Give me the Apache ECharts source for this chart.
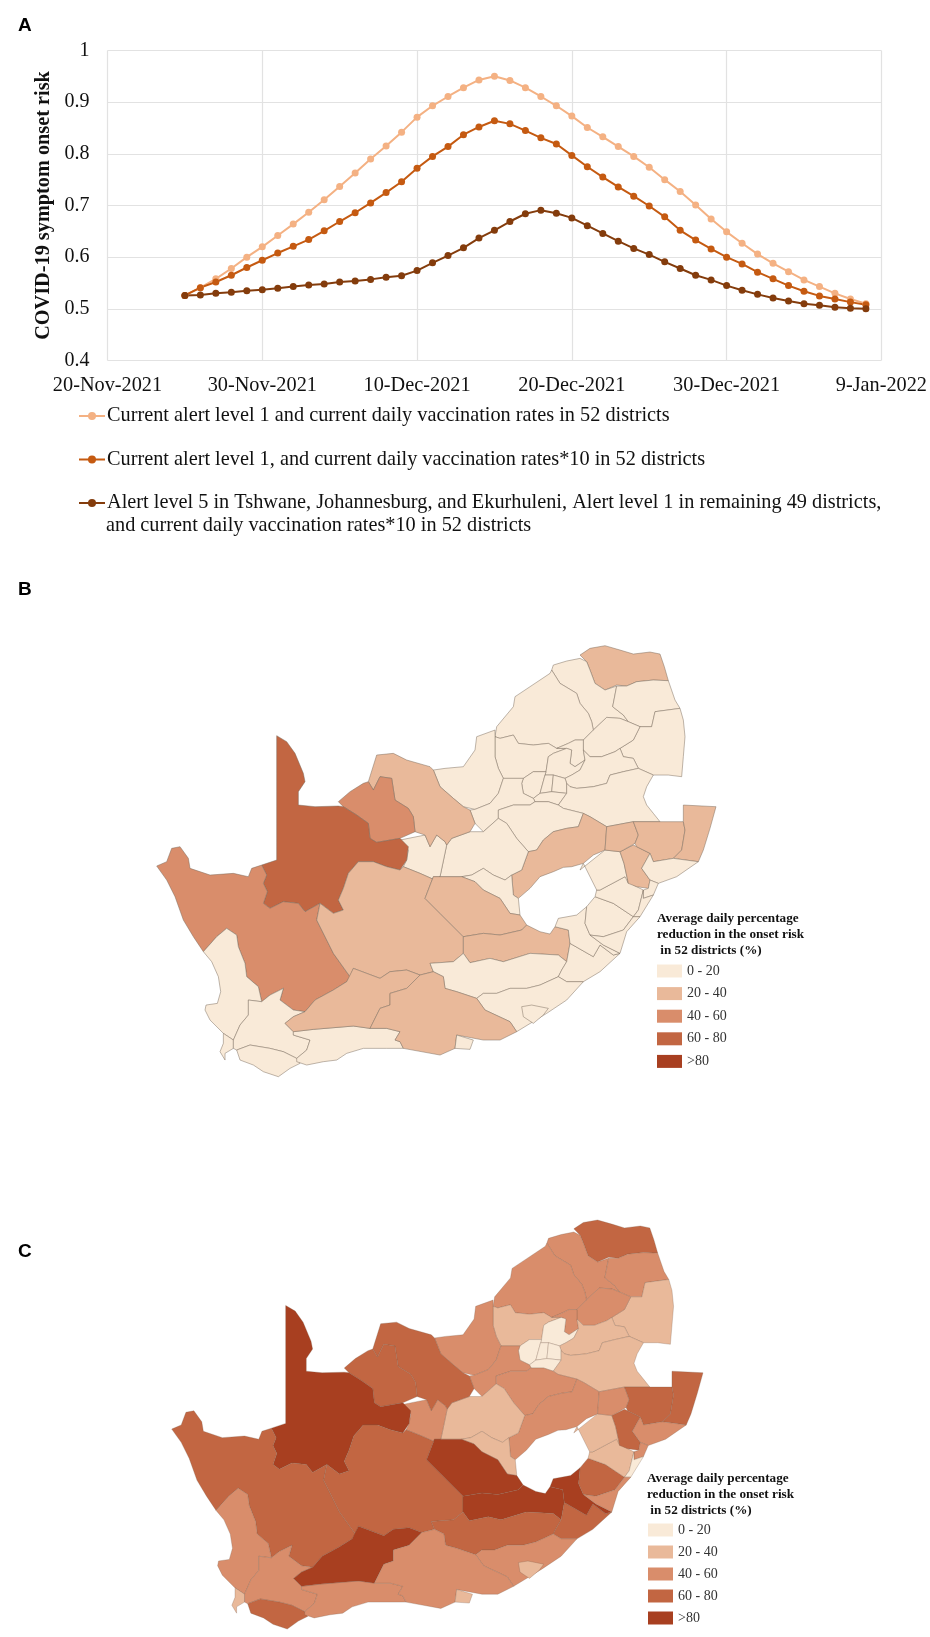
<!DOCTYPE html>
<html>
<head>
<meta charset="utf-8">
<style>html,body{margin:0;padding:0;background:#fff}#chart{width:930px;height:1637px}</style>
<script src="https://cdn.jsdelivr.net/npm/echarts@6/dist/echarts.min.js"></script>
</head>
<body>
<div id="chart"></div>
<script>
// panel A
var xTickLabels = ['20-Nov-2021', '30-Nov-2021', '10-Dec-2021', '20-Dec-2021', '30-Dec-2021', '9-Jan-2022'];
var firstDay = 5; // 25 Nov, counted in days from 20 Nov
var riskCurrent = [0.526, 0.541, 0.558, 0.578, 0.600, 0.620, 0.642, 0.664, 0.687, 0.711, 0.737, 0.763, 0.790, 0.815, 0.842, 0.871, 0.893, 0.911, 0.928, 0.943, 0.950, 0.942, 0.928, 0.911, 0.893, 0.873, 0.851, 0.833, 0.814, 0.795, 0.774, 0.750, 0.727, 0.701, 0.674, 0.649, 0.627, 0.606, 0.588, 0.572, 0.556, 0.543, 0.530, 0.519, 0.510];
var riskVacc10 = [0.526, 0.541, 0.552, 0.565, 0.580, 0.594, 0.608, 0.621, 0.634, 0.651, 0.669, 0.686, 0.705, 0.725, 0.746, 0.772, 0.795, 0.814, 0.837, 0.852, 0.864, 0.858, 0.845, 0.831, 0.819, 0.797, 0.775, 0.755, 0.736, 0.718, 0.699, 0.678, 0.652, 0.633, 0.616, 0.600, 0.587, 0.571, 0.558, 0.545, 0.534, 0.525, 0.519, 0.513, 0.508];
var riskLevel5 = [0.526, 0.527, 0.530, 0.532, 0.535, 0.537, 0.540, 0.543, 0.546, 0.548, 0.552, 0.554, 0.557, 0.561, 0.564, 0.574, 0.589, 0.603, 0.618, 0.637, 0.652, 0.669, 0.684, 0.691, 0.685, 0.676, 0.661, 0.646, 0.631, 0.617, 0.605, 0.591, 0.578, 0.565, 0.556, 0.545, 0.536, 0.528, 0.521, 0.515, 0.510, 0.507, 0.503, 0.501, 0.500];
var name1 = 'Current alert level 1 and current daily vaccination rates in 52 districts';
var name2 = 'Current alert level 1, and current daily vaccination rates*10 in 52 districts';
var name3 = 'Alert level 5 in Tshwane, Johannesburg, and Ekurhuleni, Alert level 1 in remaining 49 districts,';
var name3b = 'and current daily vaccination rates*10 in 52 districts';

// panels B and C, average daily reduction read as the middle of each legend class
var districts = ['Vhembe', 'Capricorn', 'Waterberg', 'Mopani', 'Ehlanzeni', 'Sekhukhune', 'Bojanala', 'Ngaka Modiri Molema', 'Metsweding', 'Tshwane', 'Nkangala', 'West Rand', 'Johannesburg', 'Ekurhuleni', 'Sedibeng', 'Gert Sibande', 'Dr Kenneth Kaunda', 'Fezile Dabi', 'Thabo Mofutsanyana', 'Lejweleputswa', 'Xhariep', 'Frances Baard', 'Ruth Mompati', 'John Taolo Gaetsewe', 'ZF Mgcawu', 'Namakwa', 'Pixley ka Seme', 'Karoo East', 'Chris Hani', 'Amathole', 'Amathole East', 'Amathole South', 'Buffalo City', 'Joe Gqabi', 'OR Tambo', 'Alfred Nzo', 'Harry Gwala', 'uMgungundlovu', 'Amajuba', 'Zululand', 'uMkhanyakude', 'iLembe', 'eThekwini', 'Ugu', 'Mbhashe', 'West Coast', 'Cape Town', 'Cape Winelands', 'Overberg', 'Eden', 'Central Karoo', 'Sarah Baartman', 'Nelson Mandela Bay'];
var reductionB = [30, 10, 10, 10, 10, 10, 10, 10, 10, 10, 10, 10, 10, 10, 10, 10, 10, 10, 30, 10, 10, 10, 30, 50, 70, 50, 30, 30, 30, 10, 10, 10, 10, 10, 10, 10, 10, 30, 30, 30, 30, 10, 10, 10, 10, 10, 10, 10, 10, 10, 30, 30, 10];
var reductionC = [70, 50, 50, 50, 30, 50, 30, 50, 50, 10, 30, 10, 10, 10, 10, 30, 50, 50, 50, 30, 30, 50, 70, 70, 90, 70, 70, 90, 90, 70, 70, 50, 30, 90, 70, 30, 30, 70, 50, 70, 70, 50, 50, 10, 50, 50, 30, 50, 70, 50, 90, 50, 30];
var classLabels = ['0 - 20', '20 - 40', '40 - 60', '60 - 80', '>80'];
var classColors = ['#f9ead8', '#e9b99a', '#d98d6b', '#c26642', '#a83f20'];

// district outlines, traced by hand, three sheets that share one map unit
function sheet(dx, dy) {
  return function (s) {
    return s.trim().split(/\s+/).map(function (p) {
      var c = p.split(',');
      return [+c[0] + dx, +c[1] + dy];
    });
  };
}
var W = sheet(0, 0), E = sheet(870, 0), S = sheet(180, 1290);
var outlines = {
  'Vhembe': E('480,375 510,355 555,347 600,360 640,372 690,366 720,372 733,410 745,452 700,450 650,455 620,468 590,465 555,480 525,460 510,420 500,395'),
  'Capricorn': E('400,405 440,393 480,385 500,395 510,420 525,460 555,480 590,468 578,530 610,555 625,575 600,565 560,562 520,600 515,575 505,550 480,520 470,490 420,460 395,420'),
  'Waterberg': E('395,420 420,460 470,490 480,520 505,550 515,575 520,600 490,630 465,630 445,640 410,655 385,640 340,645 295,640 280,615 240,625 225,620 230,590 280,530 285,500 330,470 390,430'),
  'Mopani': E('590,468 620,468 650,455 700,450 745,452 765,510 780,535 705,545 695,590 660,590 625,575 610,555 578,530'),
  'Ehlanzeni': E('705,545 780,535 790,570 795,620 790,680 785,740 745,735 700,735 655,715 640,685 610,680 600,655 640,630 660,590 695,590'),
  'Sekhukhune': E('520,600 560,562 600,565 625,575 660,590 640,630 600,655 585,665 545,680 510,680 490,660 490,630'),
  'Bojanala': E('225,620 240,625 280,615 295,640 340,645 385,640 410,655 440,655 400,670 385,680 378,725 340,725 310,745 250,745 235,715 225,680'),
  'Ngaka Modiri Molema': E('170,620 225,600 225,620 225,680 235,715 250,745 235,790 210,820 165,838 130,830 100,805 60,770 40,720 75,715 130,710 165,660'),
  'Metsweding': E('410,655 445,640 465,630 490,630 490,660 495,690 465,710 450,700 455,660 440,655'),
  'Tshwane': E('385,680 400,670 440,655 455,660 450,700 465,710 495,690 480,720 455,735 435,745 400,735 375,735 378,725'),
  'Nkangala': E('490,660 510,680 545,680 585,665 600,655 610,680 640,685 655,715 610,725 570,735 560,760 520,770 470,775 450,770 440,760 435,745 455,735 480,720 495,690'),
  'West Rand': E('340,725 378,725 375,735 360,790 340,805 310,790 305,760 310,745'),
  'Johannesburg': E('375,735 400,735 395,785 360,790'),
  'Ekurhuleni': E('400,735 435,745 440,760 440,790 395,785'),
  'Sedibeng': E('340,805 360,790 395,785 440,790 415,825 385,815 345,815'),
  'Gert Sibande': E('415,825 440,790 440,760 450,770 470,775 520,770 560,760 570,735 610,725 655,715 700,735 680,770 670,800 680,825 700,850 720,875 640,875 560,890 510,860 490,850 430,835'),
  'Dr Kenneth Kaunda': E('250,745 310,745 305,760 310,790 340,805 345,815 330,825 280,825 235,840 235,865 190,905 165,880 150,840 165,838 210,820 235,790'),
  'Fezile Dabi': E('235,865 235,840 280,825 330,825 345,815 385,815 415,825 430,835 490,850 475,890 440,895 400,905 370,930 350,960 325,965 290,925 260,880'),
  'Thabo Mofutsanyana': E('490,850 510,860 560,890 555,960 520,975 490,1000 455,1010 430,1012 400,1025 360,1040 330,1075 295,1105 280,1095 275,1035 305,1020 325,965 350,960 370,930 400,905 440,895 475,890'),
  'Lejweleputswa': E('235,865 260,880 290,925 325,965 305,1020 275,1035 255,1050 220,1035 190,1015 155,1035 125,1040 60,1040 80,945 95,925 150,905 190,905'),
  'Xhariep': E('125,1040 155,1035 190,1015 220,1035 255,1050 275,1035 280,1095 295,1105 300,1155 270,1150 240,1105 190,1080 165,1055'),
  'Frances Baard': E('-60,930 15,915 30,950 50,915 75,935 80,945 60,1040 45,1050 0,1030 -50,1010 -40,990 -35,960'),
  'Ruth Mompati': E('-155,755 -130,675 -80,670 -40,690 30,710 40,720 60,770 100,805 130,830 150,840 165,880 150,905 95,925 80,945 75,935 50,915 30,950 15,915 -15,905 -20,860 -35,835 -75,810 -85,745 -120,740 -140,780'),
  'John Taolo Gaetsewe': W('625,815 660,785 700,760 715,755 730,780 750,740 785,745 795,810 835,835 850,860 855,905 810,925 740,937 720,925 715,880 680,855 640,830'),
  'ZF Mgcawu': W('440,617 470,635 495,670 520,730 525,755 505,785 505,825 555,830 625,828 640,830 680,855 715,880 720,925 740,937 810,925 835,950 830,990 810,1020 770,1010 730,995 685,995 655,1030 640,1075 625,1110 640,1140 610,1150 570,1120 525,1145 505,1120 460,1115 420,1135 400,1120 412,1085 400,1060 410,1035 395,1005 440,990'),
  'Namakwa': W('80,1008 110,995 125,955 150,950 175,985 180,1015 240,1035 310,1030 355,1040 365,1015 395,1005 410,1035 400,1060 412,1085 400,1120 420,1135 460,1115 505,1120 525,1145 570,1120 560,1170 590,1230 610,1270 660,1340 650,1355 610,1380 555,1410 525,1445 490,1440 450,1410 460,1375 420,1395 395,1415 385,1370 350,1340 345,1300 325,1250 320,1215 290,1195 260,1220 220,1265 190,1220 160,1170 135,1100 110,1050'),
  'Pixley ka Seme': W('560,1170 570,1120 610,1150 640,1140 625,1110 640,1075 655,1030 685,995 730,995 770,1010 810,1020 820,1010 870,1030 915,1050 930,1040 910,1040 885,1105 930,1150 1000,1220 1000,1270 970,1295 900,1300 910,1325 870,1335 830,1320 780,1325 750,1345 670,1315 660,1340 610,1270 590,1230'),
  'Karoo East': E('40,1040 125,1040 165,1055 190,1080 240,1105 270,1150 300,1155 320,1185 305,1200 240,1215 190,1210 130,1220 60,1150 15,1105'),
  'Chris Hani': E('130,1220 190,1210 240,1215 305,1200 320,1185 360,1205 390,1212 405,1190 445,1200 450,1240 440,1295 415,1275 330,1270 250,1295 210,1285 150,1298 130,1270'),
  'Amathole': E('30,1300 100,1295 130,1270 150,1298 210,1285 250,1295 330,1270 415,1275 440,1295 425,1320 415,1340 360,1365 320,1375 270,1375 230,1390 190,1390 170,1405 110,1385 75,1375 70,1340 40,1325'),
  'Amathole East': E('450,1240 520,1280 540,1245 580,1275 600,1270 540,1325 490,1355 440,1355 415,1340 425,1320 440,1295'),
  'Amathole South': E('170,1405 190,1390 230,1390 270,1375 320,1375 360,1365 415,1340 440,1355 490,1355 440,1410 380,1450 290,1505 270,1475 195,1440'),
  'Buffalo City': E('305,1430 335,1425 385,1435 370,1455 340,1480 310,1460'),
  'Joe Gqabi': E('415,1165 470,1155 500,1130 495,1180 510,1215 550,1245 600,1270 580,1275 540,1245 520,1280 450,1240 445,1200 405,1190'),
  'OR Tambo': E('525,1100 580,1120 640,1160 610,1200 550,1220 510,1215 495,1180 500,1130'),
  'Alfred Nzo': E('530,1080 540,1080 615,1040 640,1065 670,1080 655,1140 640,1160 580,1120 525,1100'),
  'Harry Gwala': E('480,1020 555,960 600,965 612,1000 625,1060 615,1040 540,1080 530,1080 490,1000'),
  'uMgungundlovu': E('600,965 640,945 650,950 690,970 665,1015 690,1050 685,1075 650,1070 625,1060 612,1000'),
  'Amajuba': E('560,890 640,875 655,915 645,940 610,960 600,965 555,960'),
  'Zululand': E('640,875 720,875 790,875 795,900 785,960 760,985 700,995 690,970 650,950 645,940 655,915'),
  'uMkhanyakude': E('790,825 888,830 870,895 850,960 835,995 760,985 785,960 795,900 790,875'),
  'iLembe': E('665,1015 690,970 700,995 760,985 835,995 770,1040 715,1060 690,1050'),
  'eThekwini': E('690,1050 715,1060 700,1095 670,1105 670,1080 685,1075'),
  'Ugu': E('670,1080 670,1105 700,1095 660,1160 640,1160 655,1140'),
  'Mbhashe': E('510,1215 550,1220 610,1200 640,1160 660,1160 620,1205 600,1270 550,1245'),
  'West Coast': W('220,1265 260,1220 290,1195 320,1215 325,1250 345,1300 350,1340 385,1370 395,1415 355,1410 355,1455 330,1485 310,1530 280,1510 240,1470 225,1440 228,1425 262,1420 272,1385 265,1340 245,1295'),
  'Cape Town': W('280,1510 310,1530 310,1555 285,1570 285,1590 270,1565 280,1540'),
  'Cape Winelands': S('175,120 215,125 240,105 280,85 270,120 310,150 345,155 310,170 285,190 310,215 310,225 360,240 350,270 320,295 280,275 240,265 180,255 140,270 130,265 130,240 150,195 175,165'),
  'Overberg': S('140,270 180,255 240,265 280,275 320,295 330,310 300,325 265,350 220,335 190,315 150,300'),
  'Eden': S('310,215 370,208 490,198 540,205 590,205 630,215 615,240 630,245 640,265 590,265 520,265 470,280 440,300 400,305 350,315 320,305 320,295 350,270 360,240 310,225'),
  'Central Karoo': S('285,190 310,170 345,155 375,120 430,90 470,65 490,25 570,55 600,35 650,30 690,45 650,85 600,100 600,135 570,145 540,205 490,198 370,208 310,215'),
  'Sarah Baartman': S('730,35 760,50 765,85 800,95 860,115 885,150 960,185 980,215 930,240 880,240 800,225 795,265 750,285 640,265 630,245 615,240 630,215 590,205 540,205 570,145 600,135 600,100 650,85 690,45'),
  'Nelson Mandela Bay': S('800,225 850,240 840,268 795,265')
};

var districtMap = {
  type: 'FeatureCollection',
  features: districts.map(function (n) {
    return {
      type: 'Feature',
      properties: { name: n },
      geometry: { type: 'Polygon', coordinates: [outlines[n].concat([outlines[n][0]])] }
    };
  })
};
// two names, ECharts merges map series that share one
echarts.registerMap('districtsB', districtMap);
echarts.registerMap('districtsC', districtMap);

function mapSeries(mapName, values, left, top, width, height, borderColor) {
  return {
    type: 'map',
    map: mapName,
    projection: { project: function (p) { return p; }, unproject: function (p) { return p; } },
    aspectScale: 1,
    left: left,
    top: top,
    width: width,
    height: height,
    silent: true,
    showLegendSymbol: false,
    label: { show: false },
    itemStyle: { borderColor: borderColor, borderWidth: 0.6 },
    emphasis: { disabled: true },
    select: { disabled: true },
    data: districts.map(function (n, i) { return { name: n, value: values[i] }; })
  };
}

function classLegend(index, left, top, gap) {
  return {
    type: 'piecewise',
    seriesIndex: index,
    left: left,
    top: top,
    orient: 'vertical',
    inverse: true,
    align: 'left',
    itemWidth: 25,
    itemHeight: 13,
    itemGap: gap,
    itemSymbol: 'rect',
    selectedMode: false,
    hoverLink: false,
    padding: 0,
    textGap: 5,
    textStyle: { fontFamily: 'Liberation Serif', fontSize: 14, color: '#333' },
    pieces: classLabels.map(function (l, i) {
      return { min: i * 20, max: i === 4 ? 100 : (i + 1) * 20, label: l, color: classColors[i] };
    })
  };
}

function points(values) {
  return values.map(function (v, i) { return [firstDay + i, v]; });
}

function lineSeries(name, values, color) {
  return {
    name: name,
    type: 'line',
    data: points(values),
    symbol: 'circle',
    symbolSize: 7,
    lineStyle: { color: color, width: 2 },
    itemStyle: { color: color }
  };
}

function heading(text, left, top, style) {
  return { text: text, left: left, top: top, padding: 0, textStyle: style };
}
var letterStyle = { fontFamily: 'Liberation Sans', fontWeight: 'bold', fontSize: 19, color: '#000' };
var noteStyle = { fontFamily: 'Liberation Serif', fontWeight: 'bold', fontSize: 13.2, lineHeight: 16, color: '#111' };
var legendNote = 'Average daily percentage\nreduction in the onset risk\n in 52 districts (%)';

var myChart = echarts.init(document.getElementById('chart'), null, { renderer: 'canvas' });
var option = {
  animation: false,
  backgroundColor: '#fff',
  title: [
    heading('A', 18, 16, letterStyle),
    heading('B', 18, 580, letterStyle),
    heading('C', 18, 1242, letterStyle),
    heading(name3b, 106, 516, { fontFamily: 'Liberation Serif', fontWeight: 'normal', fontSize: 20.3, color: '#111' }),
    heading(legendNote, 657, 911, noteStyle),
    heading(legendNote, 647, 1471, noteStyle)
  ],
  legend: {
    data: [name1, name2, name3],
    left: 78,
    top: 406,
    orient: 'vertical',
    itemWidth: 26,
    itemHeight: 10,
    itemGap: 23.5,
    padding: 0,
    selectedMode: false,
    textStyle: { fontFamily: 'Liberation Serif', fontSize: 20.3, color: '#111', padding: [0, 0, 0, -3] }
  },
  grid: { left: 107.5, top: 50.5, width: 775, height: 310 },
  xAxis: {
    type: 'value',
    min: 0,
    max: 50,
    interval: 10,
    axisLine: { show: false },
    axisTick: { show: false },
    splitLine: { lineStyle: { color: '#e2e2e2', width: 1.2 } },
    axisLabel: {
      margin: 15,
      fontFamily: 'Liberation Serif',
      fontSize: 20.3,
      color: '#111',
      hideOverlap: false,
      formatter: function (v) { return xTickLabels[v / 10]; }
    }
  },
  yAxis: {
    type: 'value',
    min: 0.4,
    max: 1,
    interval: 0.1,
    name: 'COVID-19 symptom onset risk',
    nameLocation: 'middle',
    nameGap: 35,
    nameTextStyle: { fontFamily: 'Liberation Serif', fontWeight: 'bold', fontSize: 20.3, color: '#111' },
    axisLine: { show: false },
    axisTick: { show: false },
    splitLine: { lineStyle: { color: '#e2e2e2', width: 1.2 } },
    axisLabel: {
      margin: 18,
      fontFamily: 'Liberation Serif',
      fontSize: 20,
      color: '#111',
      formatter: function (v) { return String(+v.toFixed(1)); }
    }
  },
  visualMap: [classLegend(3, 657, 964, 8.6), classLegend(4, 648, 1523, 8)],
  series: [
    lineSeries(name1, riskCurrent, '#f4b183'),
    lineSeries(name2, riskVacc10, '#c55a11'),
    lineSeries(name3, riskLevel5, '#843c0c'),
    mapSeries('districtsB', reductionB, 156.7, 645.7, 559.3, 431, 'rgba(120,105,90,0.8)'),
    mapSeries('districtsC', reductionC, 171.7, 1220, 531.3, 409, 'rgba(120,90,70,0.45)')
  ]
};
myChart.setOption(option);
</script>
</body>
</html>
